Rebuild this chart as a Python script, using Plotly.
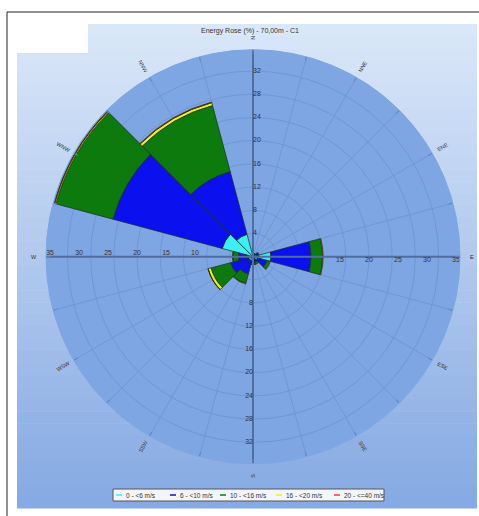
import math
import plotly.graph_objects as go

directions = ["N", "NNE", "ENE", "E", "ESE", "SSE", "S", "SSW", "WSW", "W", "WNW", "NNW"]
angles = [0, 30, 60, 90, 120, 150, 180, 210, 240, 270, 300, 330]

bin_labels = ["0 - <6 m/s", "6 - <10 m/s", "10 - <16 m/s", "16 - <20 m/s", "20 - <=40 m/s"]
bin_0_6 = [0.3, 0.3, 0.6, 3.1, 0.8, 0.4, 0.4, 0.8, 0.8, 0.8, 5.5, 4.0]
bin_6_10 = [0.2, 0.2, 0.3, 6.9, 1.7, 0.6, 0.7, 2.3, 3.2, 1.7, 19.5, 11.2]
bin_10_16 = [0.1, 0.1, 0.2, 2.0, 0.6, 0.4, 0.3, 1.7, 3.5, 1.0, 10.2, 11.8]
bin_16_20 = [0.0, 0.0, 0.0, 0.1, 0.0, 0.0, 0.0, 0.1, 0.5, 0.05, 0.2, 0.5]
bin_20_40 = [0.0, 0.0, 0.0, 0.0, 0.0, 0.0, 0.0, 0.0, 0.05, 0.0, 0.1, 0.1]
bins = [bin_0_6, bin_6_10, bin_10_16, bin_16_20, bin_20_40]
bin_colors = ["#3CEFF5", "#0A10EE", "#0C7A0C", "#F2F20A", "#FF3A3A"]

top_ticks = [4, 8, 12, 16, 20, 24, 28, 32]
bottom_ticks = [8, 12, 16, 20, 24, 28, 32]
left_ticks = [10, 15, 20, 25, 30, 35]
right_ticks = [15, 20, 25, 30, 35]
r_max = 35.7

title_text = "Energy Rose (%) - 70,00m - C1"

W, H = 479, 516
cx, cy, rad = 253, 256.7, 207


def px(x):
    return x / W


def py(y):
    return 1 - y / H


fig = go.Figure()

# background gradient panel
x0p, x1p = px(17), px(477)
top_y, bot_y = 24, 508
c_top = (0xDA, 0xE7, 0xF9)
c_bot = (0x86, 0xAA, 0xE3)
steps = 40
shapes = []
for i in range(steps):
    t = i / (steps - 1)
    col = tuple(int(c_top[k] + (c_bot[k] - c_top[k]) * t) for k in range(3))
    ya = top_y + (bot_y - top_y) * i / steps
    yb = top_y + (bot_y - top_y) * (i + 1) / steps + 0.5
    shapes.append(dict(type="rect", xref="paper", yref="paper", x0=x0p, x1=x1p,
                       y0=py(yb), y1=py(ya), fillcolor="rgb(%d,%d,%d)" % col,
                       line=dict(width=0), layer="below"))
shapes.append(dict(type="rect", xref="paper", yref="paper", x0=x0p, x1=px(88),
                   y0=py(53), y1=py(23), fillcolor="white", line=dict(width=0), layer="below"))
shapes.append(dict(type="line", xref="paper", yref="paper", x0=px(7), x1=1, y0=py(12), y1=py(12),
                   line=dict(color="#222", width=1), layer="above"))
shapes.append(dict(type="line", xref="paper", yref="paper", x0=px(7), x1=px(7), y0=0, y1=py(12),
                   line=dict(color="#222", width=1), layer="above"))

for vals, name, col in zip(bins, bin_labels, bin_colors):
    fig.add_trace(go.Barpolar(r=vals, theta=angles, width=[30] * len(angles), name=name,
                              marker=dict(color=col, line=dict(color="#1E2E1E", width=0.7)),
                              showlegend=False))

# main cross axes
for a in [0, 90, 180, 270]:
    fig.add_trace(go.Scatterpolar(r=[0, r_max], theta=[a, a], mode="lines",
                                  line=dict(color="#4F6E9E", width=2), showlegend=False, hoverinfo="skip"))

lab_font = dict(size=7, color="#333")
fig.add_trace(go.Scatterpolar(r=top_ticks, theta=[0] * len(top_ticks), mode="text",
                              text=[str(v) for v in top_ticks], textposition="middle right",
                              textfont=lab_font, showlegend=False, hoverinfo="skip"))
fig.add_trace(go.Scatterpolar(r=bottom_ticks, theta=[180] * len(bottom_ticks), mode="text",
                              text=[str(v) for v in bottom_ticks], textposition="middle left",
                              textfont=lab_font, showlegend=False, hoverinfo="skip"))
fig.add_trace(go.Scatterpolar(r=left_ticks, theta=[270] * len(left_ticks), mode="text",
                              text=[str(v) for v in left_ticks], textposition="top center",
                              textfont=lab_font, showlegend=False, hoverinfo="skip"))
fig.add_trace(go.Scatterpolar(r=right_ticks, theta=[90] * len(right_ticks), mode="text",
                              text=[str(v) for v in right_ticks], textposition="bottom center",
                              textfont=lab_font, showlegend=False, hoverinfo="skip"))

annotations = []
# direction labels, written radially just outside the rose
lab_r = 219
for d, a in zip(directions, angles):
    th = math.radians(a)
    xx = cx + lab_r * math.sin(th)
    yy = cy - lab_r * math.cos(th)
    if a in (90, 270):
        ang = 0
    elif a < 180:
        ang = a - 90
    else:
        ang = a - 270
    annotations.append(dict(text=d, x=px(xx), y=py(yy), xref="paper", yref="paper",
                            showarrow=False, textangle=ang, xanchor="center", yanchor="middle",
                            font=dict(size=5.5, color="#333")))

# custom legend
leg_x0, leg_x1, leg_y0, leg_y1 = 113, 384, 489, 501
shapes.append(dict(type="rect", xref="paper", yref="paper", x0=px(leg_x0), x1=px(leg_x1),
                   y0=py(leg_y1), y1=py(leg_y0), fillcolor="#F3F5F9",
                   line=dict(color="#555", width=1), layer="above"))
line_starts = [116, 170, 220, 276, 334]
for name, col, xs in zip(bin_labels, bin_colors, line_starts):
    shapes.append(dict(type="line", xref="paper", yref="paper", x0=px(xs), x1=px(xs + 6),
                       y0=py(495), y1=py(495), line=dict(color=col, width=1.5), layer="above"))
    annotations.append(dict(text=name, x=px(xs + 8), y=py(495), xref="paper", yref="paper",
                            showarrow=False, xanchor="left", yanchor="middle",
                            font=dict(size=6.5, color="#333")))

fig.update_layout(
    width=W, height=H,
    margin=dict(l=0, r=0, t=0, b=0),
    paper_bgcolor="white",
    shapes=shapes,
    annotations=annotations,
    showlegend=False,
    title=dict(text=title_text, x=px(250), xanchor="center", y=py(31), yanchor="middle",
               font=dict(size=7, color="#333", family="Liberation Sans")),
    font=dict(family="Liberation Sans"),
    polar=dict(
        domain=dict(x=[px(cx - rad), px(cx + rad)], y=[py(cy + rad), py(cy - rad)]),
        bgcolor="#7EA6E2",
        barmode="stack",
        radialaxis=dict(range=[0, r_max], tickvals=top_ticks, showticklabels=False, ticks="",
                        gridcolor="#6F97D3", gridwidth=1, showline=False),
        angularaxis=dict(rotation=90, direction="clockwise", tickmode="array",
                         tickvals=list(range(0, 360, 15)), showticklabels=False,
                         gridcolor="#6F97D3",
                         linecolor="#7EA6E2", ticks="inside", ticklen=4, tickcolor="#5F86C2"),
    ),
)

fig.write_html("out.html", config={"displayModeBar": False},
               post_script="document.body.style.margin='0';")
